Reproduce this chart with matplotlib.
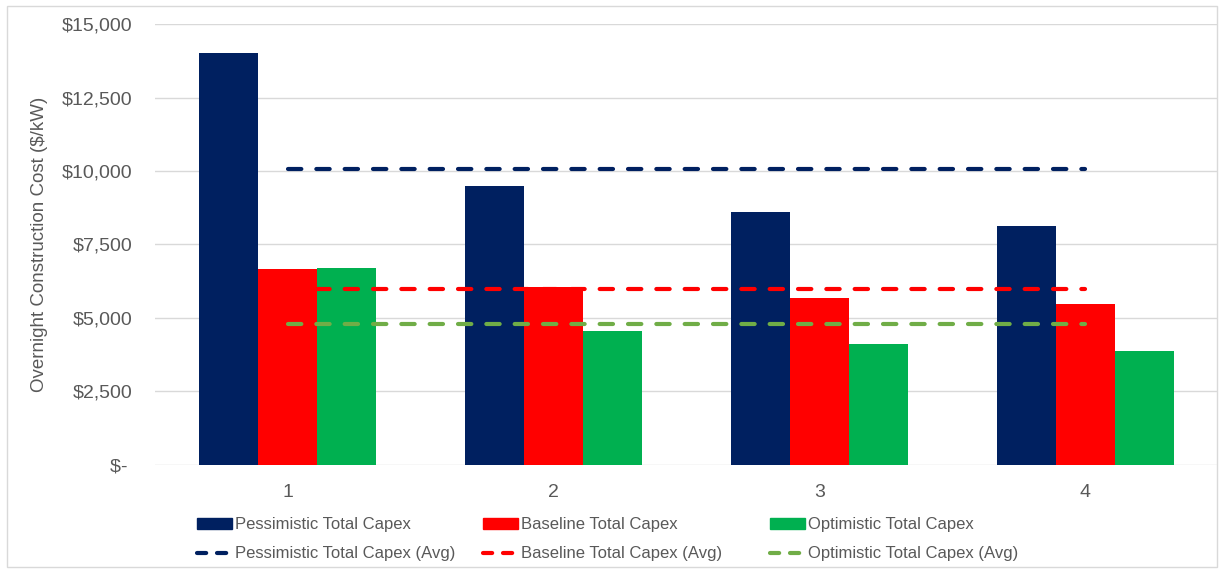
import matplotlib
matplotlib.use("Agg")
import matplotlib.pyplot as plt
import numpy as np
from matplotlib.lines import Line2D
from matplotlib.patches import Patch, Rectangle

# capex by case ($/kW)
cases = ["1", "2", "3", "4"]
pessimistic = [14000, 9500, 8600, 8120]
baseline = [6650, 6050, 5690, 5490]
optimistic = [6690, 4550, 4100, 3880]

yticks = [0, 2500, 5000, 7500, 10000, 12500, 15000]
ytick_labels = ["$- ", "$2,500", "$5,000", "$7,500", "$10,000", "$12,500", "$15,000"]

navy = "#002060"
red = "#FF0000"
green = "#00B050"
green_avg = "#70AD47"
grey = "#595959"

fig = plt.figure(figsize=(12.22, 5.69), dpi=100)
ax = fig.add_axes([0.1268, 0.1828, 0.8699, 0.775])

# outer frame
fig.patches.append(Rectangle((0.006, 0.004), 0.99, 0.986, transform=fig.transFigure,
                             fill=False, edgecolor="#D9D9D9", lw=1))

x = np.arange(1, len(cases) + 1)
w = 0.222
ax.bar(x - w, pessimistic, w, color=navy, zorder=3)
ax.bar(x, baseline, w, color=red, zorder=3)
ax.bar(x + w, optimistic, w, color=green, zorder=3)

dash = dict(lw=3, dashes=(3.2, 3.6), dash_capstyle="round", zorder=4)
ax.plot([x[0], x[-1]], [np.mean(pessimistic)] * 2, color=navy, **dash)
ax.plot([x[0], x[-1]], [np.mean(baseline)] * 2, color=red, **dash)
ax.plot([x[0], x[-1]], [np.mean(optimistic)] * 2, color=green_avg, **dash)

ax.set_xlim(0.5, 4.5)
ax.set_ylim(0, 15000)
ax.set_yticks(yticks)
ax.set_yticklabels(ytick_labels)
ax.set_xticks(x)
ax.set_xticklabels(cases)
ax.yaxis.grid(True, color="#D9D9D9", lw=1, zorder=0)
for s in ax.spines.values():
    s.set_visible(False)
ax.tick_params(axis="y", length=0, pad=16, labelsize=14, labelcolor=grey)
ax.tick_params(axis="x", length=0, pad=14, labelsize=14, labelcolor=grey)
for t in ax.get_yticklabels() + ax.get_xticklabels():
    t.set_fontfamily("Liberation Sans")
ax.set_ylabel("Overnight Construction Cost ($/kW)", fontsize=13.5, color=grey,
              family="Liberation Sans")
ax.yaxis.set_label_coords(-0.101, 0.5)

# legend, one column per scenario
legend_font = dict(family=["Liberation Sans Narrow", "Liberation Sans"], size=12)
columns = [
    (navy, navy, "Pessimistic Total Capex", 0.161),
    (red, red, "Baseline Total Capex", 0.395),
    (green, green_avg, "Optimistic Total Capex", 0.630),
]
for bar_c, line_c, name, xpos in columns:
    handles = [Patch(color=bar_c),
               Line2D([], [], color=line_c, lw=3, dashes=(2.2, 2.6), dash_capstyle="round")]
    leg = fig.legend(handles, [name, name + " (Avg)"], loc="center left",
                     bbox_to_anchor=(xpos, 0.0525), frameon=False, prop=legend_font,
                     handlelength=2.1, handleheight=0.65, handletextpad=0.2,
                     labelspacing=0.85, borderpad=0, borderaxespad=0)
    for t in leg.get_texts():
        t.set_color(grey)

fig.savefig("out.png", dpi=100)
